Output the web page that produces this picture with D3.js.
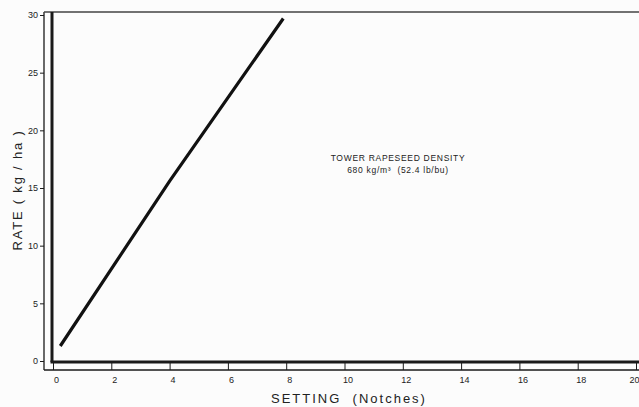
<!DOCTYPE html>
<html>
<head>
<meta charset="utf-8">
<script src="https://cdn.jsdelivr.net/npm/d3@7"></script>
<style>
  body { margin: 0; background: #fcfcfc; }
  svg { display: block; }
  text { font-family: "Liberation Sans", Arial, sans-serif; fill: #222; }
</style>
</head>
<body>
<svg width="639" height="407"></svg>
<script>
// data
let settings = [0.25, 4, 7.9];
let rates = [1.3, 15.6, 29.7];
let xTicks = [0, 2, 4, 6, 8, 10, 12, 14, 16, 18, 20];
let yTicks = [0, 5, 10, 15, 20, 25, 30];
let noteLines = ["TOWER RAPESEED DENSITY", "680 kg/m³  (52.4 lb/bu)"];

let svg = d3.select("svg");
let w = 639;
let h = 407;

let xScale = d3.scaleLinear().domain([0, 20]).range([53, 636]);
let yScale = d3.scaleLinear().domain([0, 30]).range([361, 15]);

let ink = "#1a1a1a";

// thin outer axis lines
svg.append("line")
    .attr("x1", 44).attr("x2", 44)
    .attr("y1", 12).attr("y2", 370)
    .attr("stroke", ink).attr("stroke-width", 1.3);
svg.append("line")
    .attr("x1", 44).attr("x2", w)
    .attr("y1", 370).attr("y2", 370)
    .attr("stroke", ink).attr("stroke-width", 1.3);
// top frame line
svg.append("line")
    .attr("x1", 44).attr("x2", w)
    .attr("y1", 12).attr("y2", 12)
    .attr("stroke", "#444").attr("stroke-width", 1.3);

// thick zero lines
svg.append("line")
    .attr("x1", xScale(0) - 1).attr("x2", xScale(0) - 1)
    .attr("y1", 12).attr("y2", yScale(0) + 1)
    .attr("stroke", ink).attr("stroke-width", 3);
svg.append("line")
    .attr("x1", xScale(0) - 2.5).attr("x2", w)
    .attr("y1", yScale(0) + 1).attr("y2", yScale(0) + 1)
    .attr("stroke", ink).attr("stroke-width", 3);

// y axis ticks and labels
let yAxis = d3.axisLeft(yScale)
    .tickValues(yTicks)
    .tickSize(4)
    .tickPadding(2);
let gy = svg.append("g")
    .attr("transform", "translate(44, 0)")
    .call(yAxis);
gy.select(".domain").remove();
gy.selectAll("line").attr("stroke", ink);
gy.selectAll("text")
    .attr("font-size", 9)
    .attr("fill", "#333")
    .attr("font-family", "Liberation Sans, Arial, sans-serif");

// x axis ticks and labels
let xAxis = d3.axisBottom(xScale)
    .tickValues(xTicks)
    .tickSize(0)
    .tickPadding(7);
let gx = svg.append("g")
    .attr("transform", "translate(0, 370)")
    .call(xAxis);
gx.select(".domain").remove();
gx.selectAll(".tick line")
    .attr("y1", -7).attr("y2", 0)
    .attr("stroke", ink).attr("stroke-width", 1);
gx.selectAll("text")
    .attr("font-size", 9)
    .attr("fill", "#333")
    .attr("dx", d => d == 20 ? -2 : 3)
    .attr("font-family", "Liberation Sans, Arial, sans-serif");

// the rate line
let line = d3.line()
    .x((d, i) => xScale(settings[i]))
    .y((d, i) => yScale(rates[i]));
svg.append("path")
    .datum(settings)
    .attr("d", line)
    .attr("fill", "none")
    .attr("stroke", "#111")
    .attr("stroke-width", 3.2);

// axis titles
svg.append("text")
    .attr("x", 349).attr("y", 403)
    .attr("text-anchor", "middle")
    .attr("font-size", 13)
    .attr("letter-spacing", 2)
    .attr("xml:space", "preserve")
    .text("SETTING  (Notches)");
svg.append("text")
    .attr("transform", "translate(22, 190) rotate(-90)")
    .attr("text-anchor", "middle")
    .attr("font-size", 13)
    .attr("letter-spacing", 1.8)
    .attr("xml:space", "preserve")
    .text("RATE ( kg / ha )");

// note
svg.selectAll(".note")
    .data(noteLines)
    .enter()
    .append("text")
    .attr("class", "note")
    .attr("x", 398)
    .attr("y", (d, i) => 161 + i * 12)
    .attr("text-anchor", "middle")
    .attr("font-size", 8.5)
    .attr("letter-spacing", 0.7)
    .attr("xml:space", "preserve")
    .text(d => d);
</script>
</body>
</html>
